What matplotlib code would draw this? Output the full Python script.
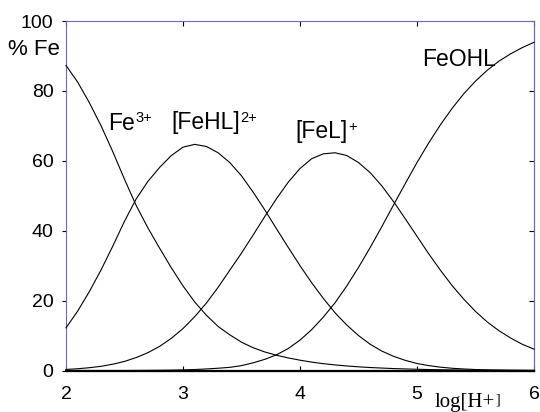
import matplotlib
matplotlib.use("Agg")
import matplotlib.pyplot as plt

plt.rcParams["font.family"] = ["Liberation Sans", "DejaVu Sans"]

# pH-like axis values (labelled log[H+])
ph = [2.0, 2.1, 2.2, 2.3, 2.4, 2.5, 2.6, 2.7, 2.8, 2.9,
      3.0, 3.1, 3.2, 3.3, 3.4, 3.5, 3.6, 3.7, 3.8, 3.9,
      4.0, 4.1, 4.2, 4.3, 4.4, 4.5, 4.6, 4.7, 4.8, 4.9,
      5.0, 5.1, 5.2, 5.3, 5.4, 5.5, 5.6, 5.7, 5.8, 5.9,
      6.0]

# percentage of total iron in each species
fe3 = [87.3, 82.5, 76.6, 70.0, 62.6, 54.7, 47.2, 40.8, 35.0, 29.4,
       24.2, 19.6, 15.8, 12.6, 10.2, 8.1, 6.5, 5.3, 4.35, 3.6,
       2.95, 2.4, 1.95, 1.6, 1.3, 1.05, 0.85, 0.7, 0.55, 0.45,
       0.35, 0.28, 0.22, 0.17, 0.13, 0.1, 0.08, 0.06, 0.05, 0.04,
       0.03]
fehl = [12.2, 17.0, 22.6, 28.8, 35.6, 42.7, 49.1, 54.1, 58.1, 61.5,
        63.9, 64.7, 64.1, 62.3, 59.5, 55.7, 51.0, 45.9, 40.5, 35.2,
        30.0, 25.1, 20.6, 16.5, 13.0, 10.0, 7.5, 5.55, 4.05, 2.9,
        2.0, 1.4, 0.95, 0.64, 0.43, 0.28, 0.18, 0.12, 0.08, 0.05,
        0.03]
fel = [0.3, 0.5, 0.8, 1.2, 1.8, 2.6, 3.7, 5.1, 6.9, 9.2,
       12.0, 15.4, 19.3, 23.8, 28.7, 33.6, 38.8, 44.1, 49.2, 53.9,
       57.8, 60.6, 62.0, 62.3, 61.5, 59.5, 56.6, 52.8, 48.3, 43.4,
       38.4, 33.4, 28.7, 24.3, 20.4, 16.9, 13.9, 11.4, 9.3, 7.5,
       6.1]
feohl = [0.0, 0.0, 0.0, 0.0, 0.0, 0.0, 0.02, 0.04, 0.07, 0.11,
         0.18, 0.28, 0.44, 0.65, 0.9, 1.4, 2.2, 3.2, 4.5, 6.3,
         8.7, 11.7, 15.3, 19.4, 24.2, 29.5, 35.2, 41.2, 47.4, 53.5,
         59.5, 65.1, 70.3, 75.0, 79.2, 82.8, 85.9, 88.5, 90.6, 92.4,
         93.9]

xticks = [2, 3, 4, 5, 6]
yticks = [0, 20, 40, 60, 80, 100]

frame_blue = "#6b6bbb"

fig = plt.figure(figsize=(5.4, 4.12), dpi=100)
ax = fig.add_axes([66 / 540, 41.5 / 412, 468 / 540, 349.5 / 412])

for series in (fe3, fehl, fel, feohl):
    ax.plot(ph, series, color="black", lw=0.8, clip_on=False, zorder=3)

ax.set_xlim(2, 6)
ax.set_ylim(0, 100)
ax.set_xticks(xticks)
ax.set_yticks(yticks)

for side in ("left", "right", "top", "bottom"):
    ax.spines[side].set_color(frame_blue)
    ax.spines[side].set_linewidth(0.8)
ax.axhline(0, color="black", lw=1.6, zorder=4, clip_on=False)

ax.tick_params(axis="x", direction="in", top=True, bottom=True,
               length=3.5, width=0.8, color="black", labelsize=14, pad=11)
ax.tick_params(axis="y", direction="out", left=True, right=False,
               length=3, width=0.8, color="black", labelsize=14, pad=6)

right = ax.secondary_yaxis("right")
right.set_yticks(yticks)
right.tick_params(direction="in", length=3.5, width=0.8, color="black",
                  labelright=False)
right.spines["right"].set_color(frame_blue)
right.spines["right"].set_linewidth(0.8)

label_size = 16.5
sup_size = 10.5

def species_label(x, y, main, sup=None):
    t = ax.text(x, y, main, fontsize=label_size, ha="left", va="baseline")
    if sup:
        ax.annotate(sup, xy=(1, 1), xycoords=t, xytext=(0.5, 0.5),
                    textcoords="offset points", fontsize=sup_size,
                    ha="left", va="top")

species_label(2.36, 68.8, "Fe", "3+")
species_label(2.90, 69.0, "[FeHL]", "2+")
species_label(3.957, 66.4, "[FeL]", "+")
species_label(5.04, 87.1, "FeOHL")

fig.text(8 / 540, 1 - 55 / 412, "% Fe", fontsize=16, ha="left", va="baseline")

xl = fig.text(435 / 540, 1 - 407 / 412, "log[H+", fontsize=15,
              family=["Liberation Serif", "DejaVu Serif"],
              ha="left", va="baseline")
ax.annotate("]", xy=(1, 1), xycoords=xl, xytext=(0.5, 0),
            textcoords="offset points", fontsize=10,
            family=["Liberation Serif", "DejaVu Serif"], ha="left", va="top",
            annotation_clip=False)

fig.savefig("out.png", dpi=100)
